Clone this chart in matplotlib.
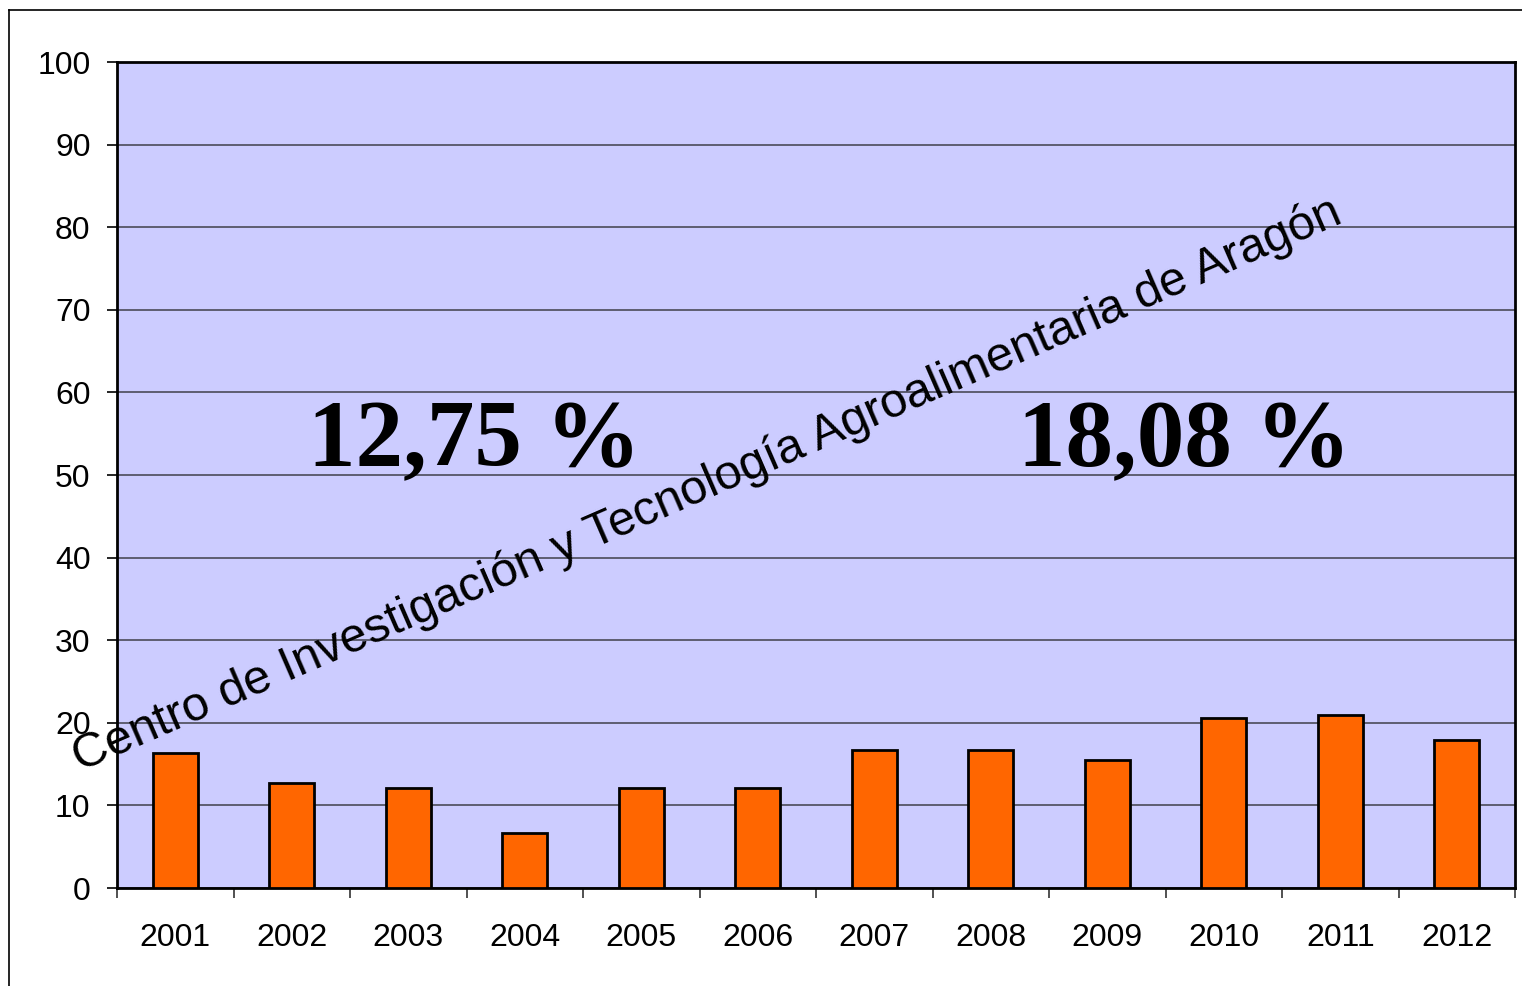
import matplotlib
matplotlib.use("Agg")
import matplotlib.pyplot as plt
from matplotlib.lines import Line2D
import numpy as np

years = ["2001", "2002", "2003", "2004", "2005", "2006",
         "2007", "2008", "2009", "2010", "2011", "2012"]
values = [16.4, 12.7, 12.1, 6.7, 12.1, 12.1, 16.7, 16.7, 15.5, 20.6, 20.9, 17.9]
yticks = [0, 10, 20, 30, 40, 50, 60, 70, 80, 90, 100]
label_left = "12,75 %"
label_right = "18,08 %"
watermark = "Centro de Investigación y Tecnología Agroalimentaria de Aragón"

W, H = 1522, 986
fig = plt.figure(figsize=(W / 100, H / 100), dpi=100)
fig.patch.set_facecolor("white")

ax = fig.add_axes([117 / W, 1 - 888 / H, (1515 - 117) / W, (888 - 62) / H])
ax.set_facecolor("#CCCCFF")

x = np.arange(len(years))
ax.bar(x, values, width=0.39, color="#FF6600", edgecolor="black", linewidth=2, zorder=3)

ax.set_xlim(-0.5, len(years) - 0.5)
ax.set_ylim(0, 100)
ax.set_yticks(yticks)
ax.set_yticklabels([str(v) for v in yticks])
ax.yaxis.grid(True, color="#555566", linewidth=1.3, zorder=1)
ax.set_axisbelow(True)

ax.set_xticks(x)
ax.set_xticklabels(years)
ax.set_xticks(np.arange(-0.5, len(years)), minor=True)
ax.tick_params(axis="x", which="major", length=0, pad=25, labelsize=23)
ax.tick_params(axis="x", which="minor", length=7, width=1.2, direction="out", color="#333333")
ax.tick_params(axis="y", which="major", length=7, width=1.2, direction="out", pad=12, labelsize=23)

for s in ax.spines.values():
    s.set_color("black")
    s.set_linewidth(2)

for lab in ax.get_xticklabels() + ax.get_yticklabels():
    lab.set_fontfamily("Liberation Sans")

# Big percentages
fig.text(308 / W, 1 - 466 / H, label_left, fontfamily="Liberation Serif",
         fontweight="bold", fontsize=68.5, ha="left", va="baseline", zorder=5)
fig.text(1018 / W, 1 - 466 / H, label_right, fontfamily="Liberation Serif",
         fontweight="bold", fontsize=68.5, ha="left", va="baseline", zorder=5)

# Watermark: fit length along baseline
x0, y0 = 80, 772
x1, y1 = 1345, 222
length = np.hypot(x1 - x0, y1 - y0)
angle = np.degrees(np.arctan2(y0 - y1, x1 - x0))
tmp = fig.text(0, 0, watermark, fontfamily="Liberation Sans", fontsize=40)
fig.canvas.draw()
wpx = tmp.get_window_extent().width
tmp.remove()
fs = 40 * length / wpx
fig.text(x0 / W, 1 - y0 / H, watermark, fontfamily="Liberation Sans", fontsize=fs,
         rotation=angle, rotation_mode="anchor", ha="left", va="baseline", zorder=6)

# Outer frame (top and left lines)
fig.add_artist(Line2D([9 / W, 1], [1 - 10 / H, 1 - 10 / H], color="black", linewidth=1.2))
fig.add_artist(Line2D([9 / W, 9 / W], [0, 1 - 10 / H], color="black", linewidth=1.2))

fig.savefig("out.png", dpi=100)
